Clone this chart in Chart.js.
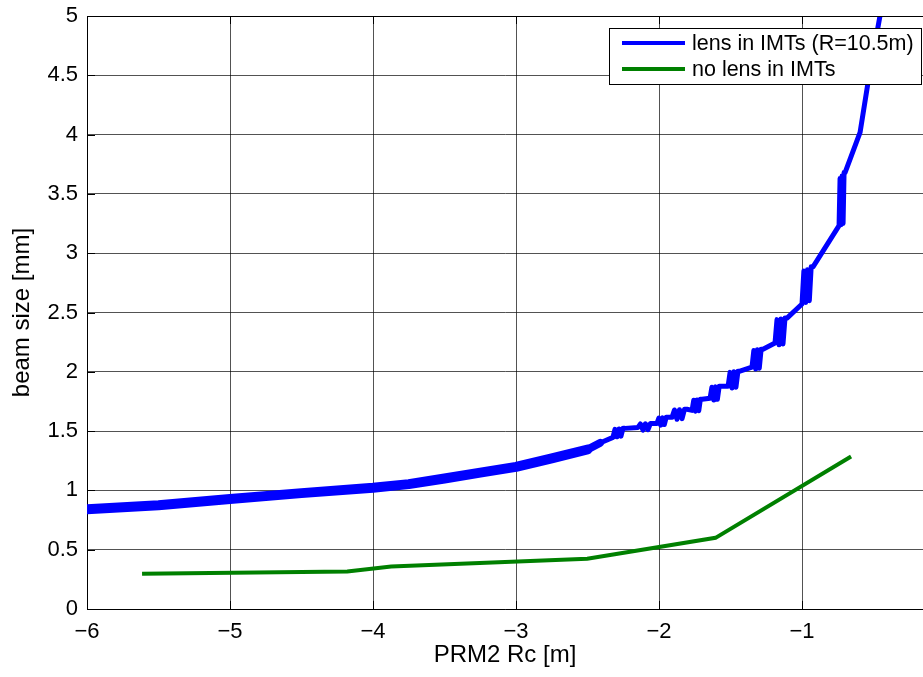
<!DOCTYPE html>
<html><head><meta charset="utf-8">
<script src="https://cdn.jsdelivr.net/npm/chart.js@4/dist/chart.umd.min.js"></script>
<style>html,body{margin:0;padding:0;background:#fff;overflow:hidden}#wrap{position:relative;width:923px;height:677px}</style>
</head><body><div id="wrap"><canvas id="c" width="923" height="677"></canvas></div>
<script>
const xTickValues = [-6, -5, -4, -3, -2, -1];
const yTickValues = [0, 0.5, 1, 1.5, 2, 2.5, 3, 3.5, 4, 4.5, 5];
const seriesNames = ['lens in IMTs (R=10.5m)', 'no lens in IMTs'];
const xTitle = 'PRM2 Rc [m]';
const yTitle = 'beam size [mm]';

const lensX = [-6.0, -5.5, -5.0, -4.5, -4.0, -3.75, -3.5, -3.25, -3.0, -2.75, -2.5, -2.413,
  -2.322, -2.308, -2.294, -2.280, -2.266, -2.252, -2.238,
  -2.147, -2.130, -2.112, -2.095, -2.077, -2.060, -2.042,
  -2.014, -2.001, -1.988, -1.975, -1.963, -1.950, -1.937,
  -1.909, -1.892, -1.874, -1.857, -1.839, -1.822, -1.804,
  -1.769, -1.757, -1.746, -1.734, -1.722, -1.711, -1.699,
  -1.643, -1.630, -1.617, -1.604, -1.592, -1.579, -1.566,
  -1.517, -1.503, -1.489, -1.476, -1.462, -1.448, -1.434,
  -1.350, -1.337, -1.324, -1.312, -1.299, -1.286, -1.273,
  -1.189, -1.175, -1.161, -1.147, -1.133, -1.119, -1.105,
  -1.000, -0.987, -0.974, -0.962, -0.949, -0.936, -0.923,
  -0.741, -0.734, -0.727, -0.720, -0.713, -0.706, -0.699,
  -0.594, -0.538, -0.455, -0.441];
const lensY = [0.84, 0.875, 0.928, 0.977, 1.022, 1.053, 1.10, 1.15, 1.198, 1.27, 1.345, 1.40,
  1.447, 1.515, 1.452, 1.518, 1.458, 1.523, 1.523,
  1.531, 1.560, 1.508, 1.562, 1.512, 1.565, 1.565,
  1.565, 1.610, 1.550, 1.612, 1.555, 1.616, 1.616,
  1.616, 1.678, 1.600, 1.680, 1.605, 1.684, 1.684,
  1.675, 1.760, 1.668, 1.763, 1.672, 1.768, 1.768,
  1.777, 1.870, 1.762, 1.873, 1.768, 1.878, 1.878,
  1.878, 1.995, 1.863, 2.000, 1.870, 2.005, 2.005,
  2.039, 2.180, 2.024, 2.185, 2.030, 2.191, 2.191,
  2.242, 2.440, 2.228, 2.445, 2.235, 2.453, 2.453,
  2.572, 2.850, 2.585, 2.860, 2.600, 2.885, 2.885,
  3.232, 3.630, 3.240, 3.650, 3.250, 3.680, 3.680,
  4.019, 4.442, 5.0, 5.093];

const noLensX = [-5.615, -4.18, -3.873, -2.502, -1.605, -0.657];
const noLensY = [0.297, 0.316, 0.359, 0.424, 0.60, 1.286];

const colors = ['#0000ff', '#008000'];
const FONT = "'Liberation Sans', Arial, Helvetica, sans-serif";

const framePlugin = {
  id: 'frame',
  afterDraw(chart) {
    const ctx = chart.ctx;
    const a = chart.chartArea;
    const xs = chart.scales.x, ys = chart.scales.y;
    ctx.save();
    ctx.strokeStyle = '#000';
    ctx.lineWidth = 1;
    ctx.beginPath();
    ctx.moveTo(a.left, Math.round(a.top) + 0.5);
    ctx.lineTo(a.right, Math.round(a.top) + 0.5);
    xTickValues.forEach(v => {
      const px = Math.round(xs.getPixelForValue(v)) + 0.5;
      ctx.moveTo(px, a.bottom); ctx.lineTo(px, a.bottom - 8);
      ctx.moveTo(px, a.top); ctx.lineTo(px, a.top + 8);
    });
    yTickValues.forEach(v => {
      const py = Math.round(ys.getPixelForValue(v)) + 0.5;
      ctx.moveTo(a.left, py); ctx.lineTo(a.left + 8, py);
    });
    ctx.stroke();

    const bx = 609.5, by = 28.5, bw = 312, bh = 56;
    ctx.fillStyle = '#fff';
    ctx.fillRect(bx, by, bw, bh);
    ctx.strokeRect(bx, by, bw, bh);
    const rows = [43, 69];
    chart.data.datasets.forEach((ds, i) => {
      ctx.strokeStyle = ds.borderColor;
      ctx.lineWidth = 4;
      ctx.beginPath();
      ctx.moveTo(622, rows[i]); ctx.lineTo(685, rows[i]);
      ctx.stroke();
      ctx.fillStyle = '#000';
      ctx.font = '21.5px ' + FONT;
      ctx.textBaseline = 'middle';
      ctx.textAlign = 'left';
      ctx.fillText(ds.label, 692, rows[i] + 1);
    });
    ctx.restore();
  }
};

new Chart(document.getElementById('c'), {
  type: 'line',
  data: {
    datasets: [
      {
        label: seriesNames[0],
        data: lensX.map((x, i) => ({x: x, y: lensY[i]})),
        borderColor: colors[0],
        borderWidth: 5,
        pointRadius: 0,
        tension: 0,
        fill: false,
        borderJoinStyle: 'round',
        borderCapStyle: 'round',
        segment: {
          borderWidth: c => (c.p0.parsed.x < -2.6 ? 10 : (c.p0.parsed.x < -2.42 ? 8 : 5))
        }
      },
      {
        label: seriesNames[1],
        data: noLensX.map((x, i) => ({x: x, y: noLensY[i]})),
        borderColor: colors[1],
        borderWidth: 4,
        pointRadius: 0,
        tension: 0,
        fill: false,
        borderJoinStyle: 'miter',
        borderCapStyle: 'butt'
      }
    ]
  },
  options: {
    responsive: false,
    animation: false,
    devicePixelRatio: 1,
    layout: {padding: {top: 16, right: 0, left: 0, bottom: 0}},
    plugins: {legend: {display: false}, tooltip: {enabled: false}},
    scales: {
      x: {
        type: 'linear',
        min: -6,
        max: -0.154,
        afterBuildTicks: s => { s.ticks = xTickValues.map(v => ({value: v})); },
        afterFit: s => { s.height = 68; s.paddingLeft = 0; s.paddingRight = 0; },
        ticks: {
          callback: v => String(v).replace('-', '\u2212'),
          font: {family: FONT, size: 22},
          color: '#000',
          padding: 10,
          maxRotation: 0,
          autoSkip: false
        },
        grid: {color: 'rgba(0,0,0,0.68)', lineWidth: 1, drawTicks: false},
        border: {display: true, color: '#000', width: 1},
        title: {display: true, text: xTitle, color: '#000', font: {family: FONT, size: 24}, padding: {top: 0, bottom: 7}}
      },
      y: {
        type: 'linear',
        min: 0,
        max: 5,
        afterBuildTicks: s => { s.ticks = yTickValues.map(v => ({value: v})); },
        afterFit: s => { s.width = 87; s.paddingTop = 0; s.paddingBottom = 0; },
        ticks: {
          callback: v => String(v),
          font: {family: FONT, size: 22},
          color: '#000',
          padding: 9,
          autoSkip: false
        },
        grid: {color: 'rgba(0,0,0,0.68)', lineWidth: 1, drawTicks: false},
        border: {display: true, color: '#000', width: 1},
        title: {display: true, text: yTitle, color: '#000', font: {family: FONT, size: 24}, padding: {top: 8, bottom: 0}}
      }
    }
  },
  plugins: [framePlugin]
});
</script>
</body></html>
